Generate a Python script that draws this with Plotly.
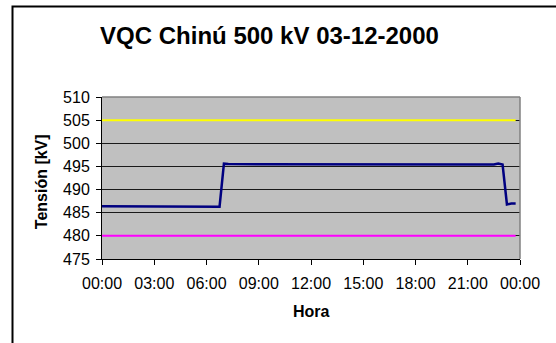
import plotly.graph_objects as go

# Voltage readings, Chinú 500 kV substation, 03-12-2000
hora = ["00:00", "06:30", "06:45", "07:00", "07:15", "22:30", "22:45",
        "23:00", "23:15", "23:30", "23:45"]
tension_kv = [486.4, 486.4, 486.3, 495.6, 495.5, 495.4, 495.6,
              495.4, 486.8, 487.0, 487.0]

# Operating limits
limite_hora = ["00:00", "23:45"]
limite_max = [505, 505]
limite_min = [480, 480]

y_ticks = [475, 480, 485, 490, 495, 500, 505, 510]
x_tick_hours = ["00:00", "03:00", "06:00", "09:00", "12:00", "15:00",
                "18:00", "21:00"]

DAY = "2000-12-03 "
NEXT_DAY = "2000-12-04 00:00"


def stamp(times):
    return [DAY + t for t in times]


FONT = "Arial, Liberation Sans, sans-serif"

fig = go.Figure()
fig.add_trace(go.Scatter(x=stamp(limite_hora), y=limite_max, mode="lines",
                         line=dict(color="#FFFF00", width=2), showlegend=False))
fig.add_trace(go.Scatter(x=stamp(limite_hora), y=limite_min, mode="lines",
                         line=dict(color="#FF00FF", width=2), showlegend=False))
fig.add_trace(go.Scatter(x=stamp(hora), y=tension_kv, mode="lines",
                         line=dict(color="#000080", width=2.5), showlegend=False))

tickvals = stamp(x_tick_hours) + [NEXT_DAY]
ticktext = x_tick_hours + ["00:00"]

L, R, T, B = 102, 520, 97, 259
W, H = 556, 343
pw, ph = R - L, B - T


def px(x):
    return (x - L) / pw


def py(y):
    return (B - y) / ph


fig.update_layout(
    width=W, height=H,
    margin=dict(l=L, r=W - R, t=T, b=H - B),
    paper_bgcolor="white",
    plot_bgcolor="#C0C0C0",
    font=dict(family=FONT, size=16, color="black"),
    title=dict(text="<b>VQC Chinú 500 kV 03-12-2000</b>",
               font=dict(family=FONT, size=24, color="black"),
               x=269.5 / W, xanchor="center", xref="container",
               y=1 - 36 / H, yanchor="middle", yref="container"),
    xaxis=dict(type="date", range=[DAY + "00:00", NEXT_DAY],
               tickvals=tickvals, ticktext=ticktext,
               showgrid=False, zeroline=False,
               showline=True, linecolor="black", linewidth=1,
               ticks="outside", ticklen=5, tickcolor="black",
               ticklabelstandoff=5,
               tickfont=dict(size=16)),
    yaxis=dict(range=[475, 510], tickvals=y_ticks,
               showgrid=True, gridcolor="#1a1a1a", gridwidth=1,
               zeroline=False,
               showline=True, linecolor="black", linewidth=1,
               ticks="outside", ticklen=5, tickcolor="black",
               ticklabelstandoff=3,
               tickfont=dict(size=16)),
    shapes=[
        # gray frame on the top and right of the plot area
        dict(type="line", xref="paper", yref="paper", x0=0, x1=1, y0=1, y1=1,
             line=dict(color="#808080", width=1.5)),
        dict(type="line", xref="paper", yref="paper", x0=1, x1=1, y0=0, y1=1,
             line=dict(color="#808080", width=1.5)),
        # outer chart border (left and top edges)
        dict(type="path", xref="paper", yref="paper",
             path=f"M {px(12.5)},{py(H + 5)} L {px(12.5)},{py(6.5)} L {px(W + 5)},{py(6.5)}",
             line=dict(color="black", width=2)),
    ],
    annotations=[
        dict(text="<b>Tensión [kV]</b>", xref="paper", yref="paper",
             x=px(41.7), y=py(181.5), textangle=-90, showarrow=False,
             xanchor="center", yanchor="middle",
             font=dict(family=FONT, size=16, color="black")),
        dict(text="<b>Hora</b>", xref="paper", yref="paper",
             x=px(311), y=py(311.7), showarrow=False,
             xanchor="center", yanchor="middle",
             font=dict(family=FONT, size=16, color="black")),
    ],
)

fig.write_html("out.html")
